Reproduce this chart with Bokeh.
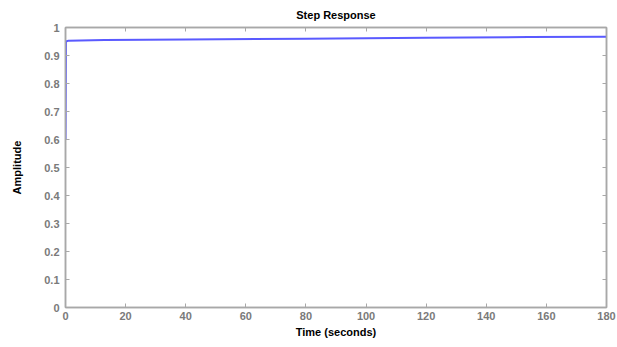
from bokeh.plotting import figure
from bokeh.models import LinearAxis, FixedTicker, Range1d
from bokeh.embed import file_html
from bokeh.resources import INLINE

# Data
time_s = [0.0, 0.15, 1.0, 13.0, 40.0, 80.0, 120.0, 154.0, 180.0]
amplitude = [0.60, 0.950, 0.953, 0.955, 0.957, 0.960, 0.963, 0.966, 0.967]

x_ticks = [0, 20, 40, 60, 80, 100, 120, 140, 160, 180]
x_tick_labels = ["0", "20", "40", "60", "80", "100", "120", "140", "160", "180"]
y_ticks = [0, 0.1, 0.2, 0.3, 0.4, 0.5, 0.6, 0.7, 0.8, 0.9, 1.0]
y_tick_labels = ["0", "0.1", "0.2", "0.3", "0.4", "0.5", "0.6", "0.7", "0.8", "0.9", "1"]

title_text = "Step Response"
x_label = "Time (seconds)"
y_label = "Amplitude"

FONT = "Liberation Sans"
AXIS_GRAY = "#a8a8a8"
LABEL_GRAY = "#7a7a7a"

p = figure(width=617, height=347, output_backend="svg", toolbar_location=None,
           x_range=Range1d(0, 180), y_range=Range1d(0, 1),
           min_border_left=65, min_border_right=11, min_border_top=27,
           min_border_bottom=40, title=title_text)

p.title.align = "center"
p.title.text_font = FONT
p.title.text_font_size = "11px"
p.title.text_font_style = "bold"
p.title.text_color = "black"
p.title.offset = 0
p.title.standoff = 13

p.xgrid.visible = False
p.ygrid.visible = False
p.outline_line_color = AXIS_GRAY
p.outline_line_width = 1.5
p.background_fill_color = "white"
p.border_fill_color = "white"

p.line(time_s, amplitude, line_color="#5a5aff", line_width=2)

def style_axis(ax, ticks, labels, show_labels=True):
    ax.ticker = FixedTicker(ticks=ticks)
    if show_labels:
        ax.major_label_overrides = {t: l for t, l in zip(ticks, labels)}
    else:
        ax.major_label_overrides = {t: "" for t in ticks}
    ax.axis_line_color = AXIS_GRAY
    ax.axis_line_width = 1.5
    ax.major_tick_line_color = AXIS_GRAY
    ax.major_tick_line_width = 1
    ax.major_tick_in = 4
    ax.major_tick_out = 0
    ax.minor_tick_line_color = None
    ax.major_label_text_font = FONT
    ax.major_label_text_font_size = "11px"
    ax.major_label_text_font_style = "bold"
    ax.major_label_text_color = LABEL_GRAY
    ax.major_label_standoff = 4

xa = p.xaxis[0]
style_axis(xa, x_ticks, x_tick_labels)
xa.axis_label = x_label
xa.axis_label_text_font = FONT
xa.axis_label_text_font_size = "11px"
xa.axis_label_text_font_style = "bold"
xa.axis_label_text_color = "black"
xa.axis_label_standoff = 3

ya = p.yaxis[0]
style_axis(ya, y_ticks, y_tick_labels)
ya.major_label_standoff = 6
ya.axis_label = y_label
ya.axis_label_text_font = FONT
ya.axis_label_text_font_size = "11px"
ya.axis_label_text_font_style = "bold"
ya.axis_label_text_color = "black"
ya.axis_label_standoff = 18

top_ax = LinearAxis()
style_axis(top_ax, x_ticks, x_tick_labels, show_labels=False)
p.add_layout(top_ax, "above")

right_ax = LinearAxis()
style_axis(right_ax, y_ticks, y_tick_labels, show_labels=False)
p.add_layout(right_ax, "right")

open("out.html", "w").write(file_html(p, INLINE))
